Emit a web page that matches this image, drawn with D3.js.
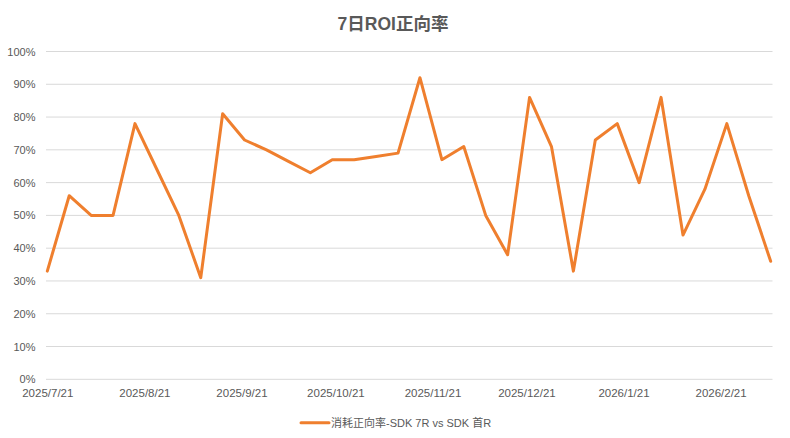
<!DOCTYPE html>
<html>
<head>
<meta charset="utf-8">
<script src="https://cdn.jsdelivr.net/npm/d3@7"></script>
<style>
  html, body { margin: 0; padding: 0; background: #fff; }
  svg { display: block; }
  text { font-family: "Liberation Sans", "Noto Sans CJK SC", sans-serif; fill: #595959; }
</style>
</head>
<body>
<svg id="chart" width="790" height="438"></svg>
<script>
const title = "7日ROI正向率";
const seriesName = "消耗正向率-SDK 7R vs SDK 首R";
const dates = [
  "2025-07-21","2025-07-28","2025-08-04","2025-08-11","2025-08-18","2025-08-25",
  "2025-09-01","2025-09-08","2025-09-15","2025-09-22","2025-09-29","2025-10-06",
  "2025-10-13","2025-10-20","2025-10-27","2025-11-03","2025-11-10","2025-11-17",
  "2025-11-24","2025-12-01","2025-12-08","2025-12-15","2025-12-22","2025-12-29",
  "2026-01-05","2026-01-12","2026-01-19","2026-01-26","2026-02-02","2026-02-09",
  "2026-02-16","2026-02-23","2026-03-02","2026-03-09"
];
const values = [
  0.33,0.56,0.50,0.50,0.78,0.64,
  0.50,0.31,0.81,0.73,0.70,0.665,
  0.63,0.67,0.67,0.68,0.69,0.92,
  0.67,0.71,0.50,0.38,0.86,0.71,
  0.33,0.73,0.78,0.60,0.86,0.44,
  0.58,0.78,0.56,0.36
];
const xTickDates = ["2025-07-21","2025-08-21","2025-09-21","2025-10-21","2025-11-21","2025-12-21","2026-01-21","2026-02-21"];
const yTicks = [0,0.1,0.2,0.3,0.4,0.5,0.6,0.7,0.8,0.9,1.0];
const axisStart = "2025-07-21", axisEnd = "2026-03-10";

const parse = d3.utcParse("%Y-%m-%d");
const fmtDate = d3.utcFormat("%Y/%-m/%-d");
const data = dates.map((d, i) => ({ date: parse(d), value: values[i] }));

const svg = d3.select("#chart");
const gridLeft = 46, gridRight = 772.5, plotTop = 51.5, plotBottom = 379.3;

const x = d3.scaleUtc().domain([parse(axisStart), parse(axisEnd)]).range([47.3, 773.8]);
const y = d3.scaleLinear().domain([0, 1]).range([plotBottom, plotTop]);

// gridlines
svg.append("g").selectAll("line").data(yTicks).join("line")
  .attr("x1", gridLeft).attr("x2", gridRight)
  .attr("y1", d => y(d)).attr("y2", d => y(d))
  .attr("stroke", "#D9D9D9").attr("stroke-width", 1);

// y axis labels
const yAxis = d3.axisLeft(y).tickValues(yTicks).tickFormat(d3.format(".0%")).tickSize(0).tickPadding(10.5);
const yg = svg.append("g").attr("transform", `translate(${gridLeft},0)`).call(yAxis);
yg.select(".domain").remove();
yg.selectAll("text").attr("font-size", 11).attr("fill", "#595959")
  .style("font-family", '"Liberation Sans", sans-serif');

// x axis labels
const xAxis = d3.axisBottom(x).tickValues(xTickDates.map(parse)).tickFormat(fmtDate).tickSize(0).tickPadding(10);
const xg = svg.append("g").attr("transform", `translate(0,${plotBottom})`).call(xAxis);
xg.select(".domain").remove();
xg.selectAll("text").attr("font-size", 11.5).attr("fill", "#595959")
  .style("font-family", '"Liberation Sans", sans-serif');

// line
const line = d3.line().x(d => x(d.date)).y(d => y(d.value));
svg.append("path").datum(data)
  .attr("d", line)
  .attr("fill", "none")
  .attr("stroke", "#EF7F2E")
  .attr("stroke-width", 3)
  .attr("stroke-linejoin", "round")
  .attr("stroke-linecap", "round");

// title
svg.append("text").attr("x", 393).attr("y", 29.5)
  .attr("text-anchor", "middle").attr("font-size", 17.5).attr("font-weight", "bold")
  .attr("fill", "#595959").text(title);

// legend
const lg = svg.append("g");
lg.append("line").attr("x1", 301).attr("x2", 329).attr("y1", 422.7).attr("y2", 422.7)
  .attr("stroke", "#EF7F2E").attr("stroke-width", 3).attr("stroke-linecap", "round");
lg.append("text").attr("x", 331).attr("y", 427).attr("font-size", 11)
  .attr("fill", "#595959").text(seriesName);
</script>
</body>
</html>
